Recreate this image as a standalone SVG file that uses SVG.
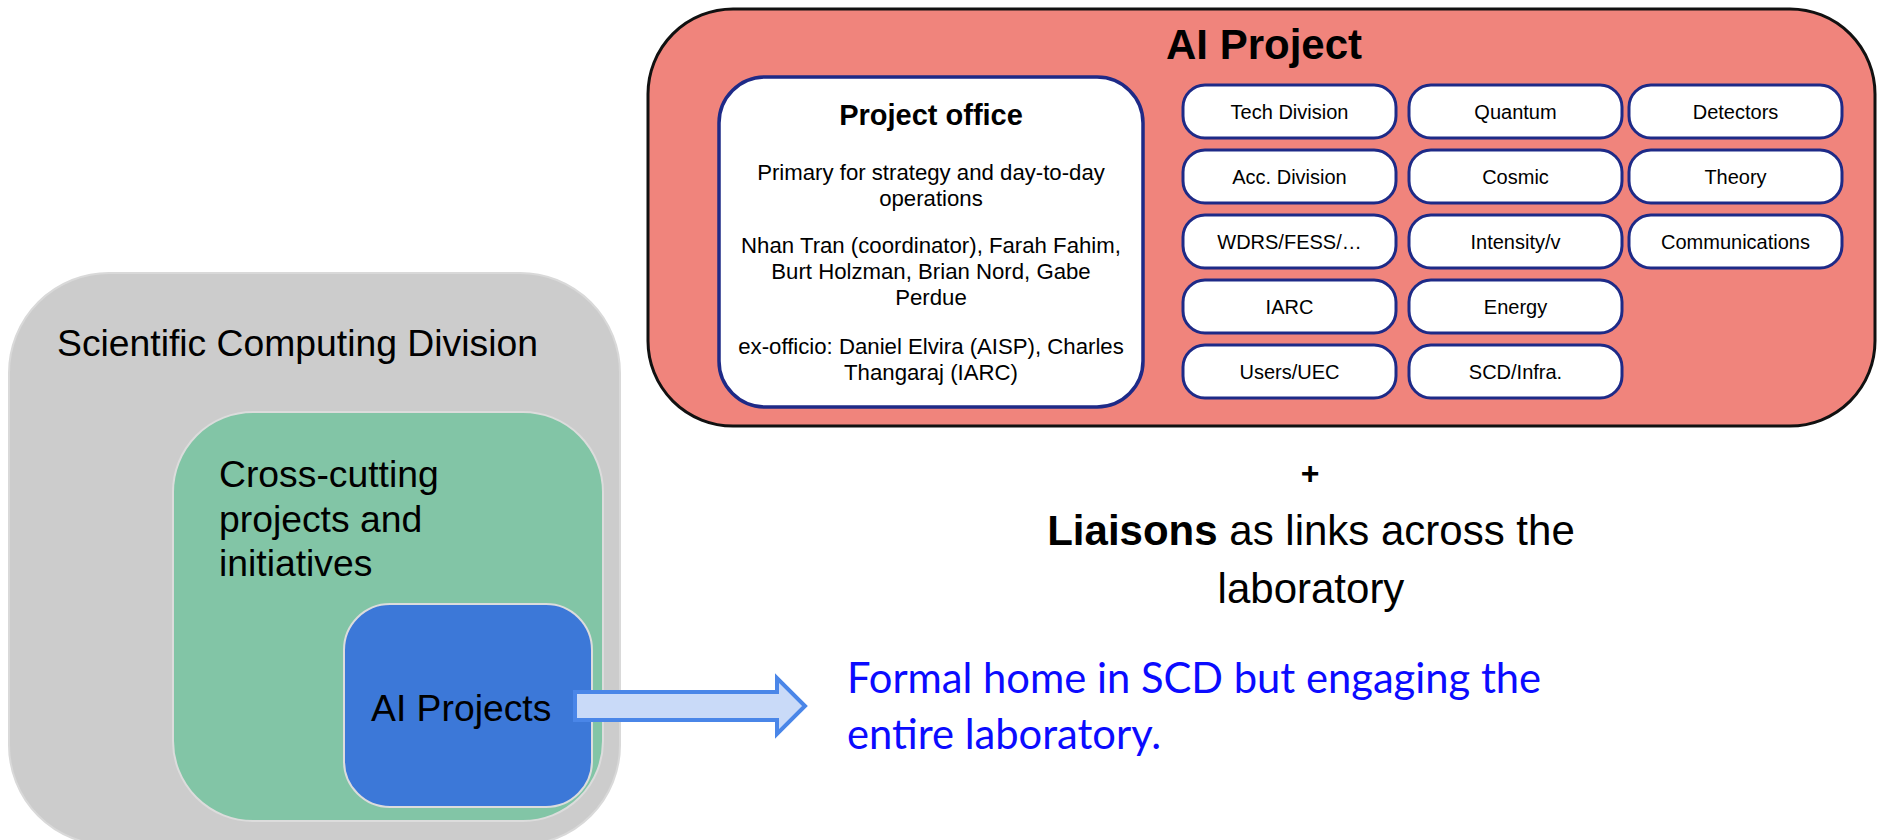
<svg xmlns="http://www.w3.org/2000/svg" width="1878" height="840" viewBox="0 0 1878 840">
<style>
  text { font-family: "Liberation Sans", Arial, sans-serif; fill: #000; }
  .big { font-size: 37.3px; }
  .po { font-size: 22.2px; text-anchor: middle; }
  .unit rect { fill: #fff; stroke: #1e2a87; stroke-width: 3; }
  .unit text { font-size: 20px; text-anchor: middle; }
  .blue { font-family: Lato, "Open Sans", sans-serif; font-size: 41.7px; fill: #0b0bff; }
</style>
<rect width="1878" height="840" fill="#fff"/>

<g id="scd">
  <rect x="9" y="273" width="611" height="572" rx="100" fill="#cccccc" stroke="#d9d9d9" stroke-width="2"/>
  <text class="big" x="57" y="356">Scientific Computing Division</text>
</g>
<g id="crosscutting">
  <rect x="173" y="412" width="430" height="409" rx="80" fill="#82c5a6" stroke="#dcdcdc" stroke-width="2"/>
  <text class="big" x="219" y="487">Cross-cutting</text>
  <text class="big" x="219" y="532">projects and</text>
  <text class="big" x="219" y="576">initiatives</text>
</g>
<g id="ai-projects">
  <rect x="344" y="604" width="248" height="203" rx="46" fill="#3c78d8" stroke="#dcdcdc" stroke-width="2"/>
  <text class="big" x="371" y="721">AI Projects</text>
</g>

<g id="ai-project">
  <rect x="648" y="9" width="1227" height="417" rx="85" fill="#f0847c" stroke="#111" stroke-width="3"/>
  <text x="1264" y="59" font-size="42" font-weight="bold" text-anchor="middle">AI Project</text>
</g>

<g id="project-office">
  <rect x="719" y="77" width="424" height="330" rx="46" fill="#fff" stroke="#1e2a87" stroke-width="3.5"/>
  <text x="931" y="125" font-size="29" font-weight="bold" text-anchor="middle">Project office</text>
  <text class="po" x="931" y="180">Primary for strategy and day-to-day</text>
  <text class="po" x="931" y="206">operations</text>
  <text class="po" x="931" y="253">Nhan Tran (coordinator), Farah Fahim,</text>
  <text class="po" x="931" y="279">Burt Holzman, Brian Nord, Gabe</text>
  <text class="po" x="931" y="305">Perdue</text>
  <text class="po" x="931" y="354">ex-officio: Daniel Elvira (AISP), Charles</text>
  <text class="po" x="931" y="380">Thangaraj (IARC)</text>
</g>

<g id="tech-division" class="unit"><rect x="1183" y="85" width="213" height="53" rx="22"/><text x="1289.5" y="118.5">Tech Division</text></g>
<g id="quantum" class="unit"><rect x="1409" y="85" width="213" height="53" rx="22"/><text x="1515.5" y="118.5">Quantum</text></g>
<g id="detectors" class="unit"><rect x="1629" y="85" width="213" height="53" rx="22"/><text x="1735.5" y="118.5">Detectors</text></g>

<g id="acc-division" class="unit"><rect x="1183" y="150" width="213" height="53" rx="22"/><text x="1289.5" y="183.5">Acc. Division</text></g>
<g id="cosmic" class="unit"><rect x="1409" y="150" width="213" height="53" rx="22"/><text x="1515.5" y="183.5">Cosmic</text></g>
<g id="theory" class="unit"><rect x="1629" y="150" width="213" height="53" rx="22"/><text x="1735.5" y="183.5">Theory</text></g>

<g id="wdrs" class="unit"><rect x="1183" y="215" width="213" height="53" rx="22"/><text x="1289.5" y="248.5">WDRS/FESS/…</text></g>
<g id="intensity" class="unit"><rect x="1409" y="215" width="213" height="53" rx="22"/><text x="1515.5" y="248.5">Intensity/v</text></g>
<g id="communications" class="unit"><rect x="1629" y="215" width="213" height="53" rx="22"/><text x="1735.5" y="248.5">Communications</text></g>

<g id="iarc" class="unit"><rect x="1183" y="280" width="213" height="53" rx="22"/><text x="1289.5" y="313.5">IARC</text></g>
<g id="energy" class="unit"><rect x="1409" y="280" width="213" height="53" rx="22"/><text x="1515.5" y="313.5">Energy</text></g>

<g id="users-uec" class="unit"><rect x="1183" y="345" width="213" height="53" rx="22"/><text x="1289.5" y="378.5">Users/UEC</text></g>
<g id="scd-infra" class="unit"><rect x="1409" y="345" width="213" height="53" rx="22"/><text x="1515.5" y="378.5">SCD/Infra.</text></g>

<g id="liaisons">
  <text x="1310" y="484" font-size="32" font-weight="bold" text-anchor="middle">+</text>
  <text x="1311" y="545" font-size="42" text-anchor="middle"><tspan font-weight="bold">Liaisons</tspan> as links across the</text>
  <text x="1311" y="603" font-size="42" text-anchor="middle">laboratory</text>
</g>

<g id="connectors">
  <polygon points="575,692 777,692 777,678 805,706 777,734 777,720 575,720" fill="#c9daf8" stroke="#4a86e8" stroke-width="4" stroke-linejoin="miter"/>
</g>

<g id="note">
  <text class="blue" x="847" y="693">Formal home in SCD but engaging the</text>
  <text class="blue" x="847" y="749">entire laboratory.</text>
</g>
</svg>
